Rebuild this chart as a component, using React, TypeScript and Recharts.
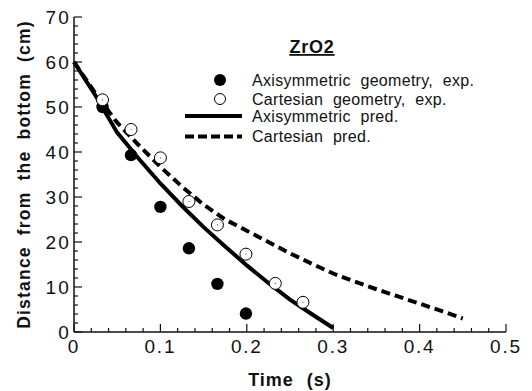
import React from "react";
import {
  ComposedChart,
  Line,
  Scatter,
  XAxis,
  YAxis,
  Legend,
} from "recharts";

// time (s) / distance from the bottom (cm)
const axiExpT = [0.033, 0.066, 0.1, 0.133, 0.166, 0.199];
const axiExpD = [50.0, 39.3, 27.8, 18.6, 10.7, 4.1];

const cartExpT = [0.033, 0.066, 0.1, 0.133, 0.166, 0.199, 0.233, 0.265];
const cartExpD = [51.6, 45.0, 38.7, 29.0, 23.8, 17.3, 10.8, 6.6];

const axiPredT = [0, 0.025, 0.05, 0.075, 0.1, 0.125, 0.15, 0.175, 0.2, 0.225, 0.25, 0.275, 0.3];
const axiPredD = [60, 52.5, 44.3, 38.5, 33.0, 28.0, 23.3, 19.0, 14.8, 10.9, 7.2, 4.0, 0.9];

const cartPredT = [0, 0.025, 0.05, 0.075, 0.1, 0.125, 0.15, 0.175, 0.2, 0.225, 0.25, 0.275, 0.3, 0.325, 0.35, 0.375, 0.4, 0.425, 0.45];
const cartPredD = [60, 53, 46.5, 41.5, 36.7, 32.3, 28.3, 25.0, 22.5, 20.0, 17.5, 15.2, 13.0, 11.2, 9.5, 7.9, 6.3, 4.7, 3.0];

const xMajor = [0, 0.1, 0.2, 0.3, 0.4, 0.5];
const yMajor = [0, 10, 20, 30, 40, 50, 60, 70];
const xTicks = Array.from({ length: 26 }, (_, i) => +(i * 0.02).toFixed(2));
const yTicks = Array.from({ length: 36 }, (_, i) => i * 2);

const zip = (t: number[], d: number[]) => t.map((v, i) => ({ t: v, d: d[i] }));

const FONT = "'Liberation Sans', Arial, Helvetica, sans-serif";
const INK = "#111";

const isMajor = (v: number, majors: number[]) =>
  majors.some((m) => Math.abs(m - v) < 1e-6);

// inward tick marks, labels only on majors
function BottomTick(props: any) {
  const { x, y, payload } = props;
  const major = isMajor(payload.value, xMajor);
  return (
    <g>
      <line x1={x} x2={x} y1={y} y2={y - (major ? 8 : 4)} stroke={INK} strokeWidth={1.2} />
      {major && (
        <text x={x} y={y + 21} textAnchor="middle" fontFamily={FONT} fontSize={19} letterSpacing={1.8} fill={INK}>
          {payload.value === 0 ? "0" : payload.value}
        </text>
      )}
    </g>
  );
}

function TopTick(props: any) {
  const { x, y, payload } = props;
  const major = isMajor(payload.value, xMajor);
  return <line x1={x} x2={x} y1={y} y2={y + (major ? 8 : 4)} stroke={INK} strokeWidth={1.2} />;
}

function LeftTick(props: any) {
  const { x, y, payload } = props;
  const major = isMajor(payload.value, yMajor);
  return (
    <g>
      <line x1={x} x2={x + (major ? 8 : 4)} y1={y} y2={y} stroke={INK} strokeWidth={1.2} />
      {major && (
        <text x={x - 3} y={y + 7} textAnchor="end" fontFamily={FONT} fontSize={19} letterSpacing={2.2} fill={INK}>
          {payload.value}
        </text>
      )}
    </g>
  );
}

function RightTick(props: any) {
  const { x, y, payload } = props;
  const major = isMajor(payload.value, yMajor);
  return <line x1={x} x2={x - (major ? 8 : 4)} y1={y} y2={y} stroke={INK} strokeWidth={1.2} />;
}

const FilledDot = (p: any) => <circle cx={p.cx} cy={p.cy} r={6.2} fill="#000" />;
const OpenDot = (p: any) => (
  <g>
    <circle cx={p.cx} cy={p.cy} r={6} fill="#fff" stroke="#000" strokeWidth={1} />
    <circle cx={p.cx} cy={p.cy} r={0.6} fill="#444" />
  </g>
);

function ZrLegend() {
  const tx = 72;
  const txt = { fontFamily: FONT, fontSize: 16, fill: INK, wordSpacing: 5, letterSpacing: 0.3 } as const;
  return (
    <svg width={320} height={120}>
      <text x={132} y={25} textAnchor="middle" fontFamily={FONT} fontSize={18} fontWeight="bold" letterSpacing={0.8} textDecoration="underline" fill={INK}>
        ZrO2
      </text>
      <circle cx={40} cy={52} r={6} fill="#000" />
      <text x={tx} y={58} {...txt}>Axisymmetric geometry, exp.</text>
      <circle cx={40} cy={71} r={5.5} fill="#fff" stroke="#000" strokeWidth={1} />
      <text x={tx} y={77} {...txt}>Cartesian geometry, exp.</text>
      <line x1={5} x2={62} y1={88} y2={88} stroke="#000" strokeWidth={4} />
      <text x={tx} y={94} {...txt}>Axisymmetric pred.</text>
      <line x1={5} x2={62} y1={108.5} y2={108.5} stroke="#000" strokeWidth={4} strokeDasharray="9 4" />
      <text x={tx} y={114} {...txt}>Cartesian pred.</text>
    </svg>
  );
}

export default function App() {
  return (
    <div style={{ position: "fixed", left: 0, top: 0, width: 532, height: 391, background: "#fff" }}>
      <ComposedChart width={532} height={391} margin={{ top: 17, right: 26, left: 0, bottom: 0 }}>
        <XAxis
          xAxisId="b"
          dataKey="t"
          type="number"
          domain={[0, 0.5]}
          ticks={xTicks}
          interval={0}
          tickSize={0}
          tickMargin={0}
          tick={<BottomTick />}
          axisLine={{ stroke: INK, strokeWidth: 1.5 }}
          height={59}
          label={(p: any) => {
            const vb = p.viewBox;
            return (
              <text x={vb.x + vb.width / 2} y={386} textAnchor="middle" fontFamily={FONT} fontSize={18} fontWeight="bold" letterSpacing={1} wordSpacing={7} fill={INK}>
                Time (s)
              </text>
            );
          }}
        />
        <XAxis
          xAxisId="top"
          orientation="top"
          dataKey="t"
          type="number"
          domain={[0, 0.5]}
          ticks={xTicks}
          interval={0}
          tickSize={0}
          tickMargin={0}
          tick={<TopTick />}
          axisLine={{ stroke: INK, strokeWidth: 1.5 }}
          height={0}
        />
        <YAxis
          yAxisId="l"
          dataKey="d"
          type="number"
          domain={[0, 70]}
          ticks={yTicks}
          interval={0}
          tickSize={0}
          tickMargin={0}
          tick={<LeftTick />}
          axisLine={{ stroke: INK, strokeWidth: 1.5 }}
          width={74}
          label={(p: any) => {
            const vb = p.viewBox;
            const cx = 24;
            const cy = vb.y + vb.height / 2;
            return (
              <text x={cx} y={cy} transform={`rotate(-90 ${cx} ${cy})`} textAnchor="middle" dominantBaseline="central" fontFamily={FONT} fontSize={17.5} fontWeight="bold" letterSpacing={1.2} wordSpacing={5} fill={INK}>
                Distance from the bottom (cm)
              </text>
            );
          }}
        />
        <YAxis
          yAxisId="r"
          orientation="right"
          dataKey="d"
          type="number"
          domain={[0, 70]}
          ticks={yTicks}
          interval={0}
          tickSize={0}
          tickMargin={0}
          tick={<RightTick />}
          axisLine={{ stroke: INK, strokeWidth: 1.5 }}
          width={0}
        />
        <Line
          xAxisId="b"
          yAxisId="l"
          data={zip(axiPredT, axiPredD)}
          dataKey="d"
          name="Axisymmetric pred."
          type="linear"
          stroke="#000"
          strokeWidth={4}
          dot={false}
          isAnimationActive={false}
        />
        <Line
          xAxisId="b"
          yAxisId="l"
          data={zip(cartPredT, cartPredD)}
          dataKey="d"
          name="Cartesian pred."
          type="linear"
          stroke="#000"
          strokeWidth={4}
          strokeDasharray="9 5"
          dot={false}
          isAnimationActive={false}
        />
        <Scatter
          xAxisId="b"
          yAxisId="l"
          data={zip(axiExpT, axiExpD)}
          dataKey="d"
          name="Axisymmetric geometry, exp."
          shape={FilledDot}
          isAnimationActive={false}
        />
        <Scatter
          xAxisId="b"
          yAxisId="l"
          data={zip(cartExpT, cartExpD)}
          dataKey="d"
          name="Cartesian geometry, exp."
          shape={OpenDot}
          isAnimationActive={false}
        />
        <Legend
          layout="horizontal"
          verticalAlign="middle"
          align="center"
          content={() => <ZrLegend />}
          wrapperStyle={{ left: 180, top: 28, width: 320, height: 120 }}
        />
      </ComposedChart>
    </div>
  );
}
